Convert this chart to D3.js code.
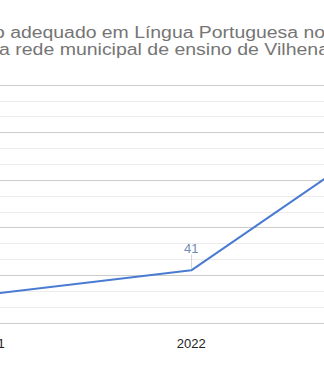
<!DOCTYPE html>
<html>
<head>
<meta charset="utf-8">
<script src="https://cdn.jsdelivr.net/npm/d3@7"></script>
<style>
  html, body { margin: 0; padding: 0; background: #fff; }
  svg { display: block; }
</style>
</head>
<body>
<svg id="chart" width="324" height="371"></svg>
<script>
// ---- data ----
const titleLines = ["o adequado em Língua Portuguesa no", "a rede municipal de ensino de Vilhena"];
const years = ["2021", "2022", "2023"];
const values = [36, 41, 70];
const majorTicks = [30, 40, 50, 60, 70, 80];
const minorSteps = [1 / 3, 2 / 3];

// ---- layout ----
const W = 324, H = 371;
const svg = d3.select("#chart");
svg.append("rect").attr("width", W).attr("height", H).attr("fill", "#fff");

const x = d3.scalePoint().domain(years).range([-9.7, 392.3]);
const y = d3.scaleLinear().domain([30, 80]).range([322.7, 84.7]);

// title
const titleCfg = [
  { x: -6, y: 37.5, len: 331 },
  { x: -1, y: 54.5, len: 330 }
];
svg.append("g").selectAll("text").data(titleLines).join("text")
  .attr("x", (d, i) => titleCfg[i].x)
  .attr("y", (d, i) => titleCfg[i].y)
  .attr("textLength", (d, i) => titleCfg[i].len)
  .attr("lengthAdjust", "spacingAndGlyphs")
  .attr("font-family", "'Liberation Sans', Arial, sans-serif")
  .attr("font-size", 16)
  .attr("fill", "#757575")
  .text(d => d);

// minor gridlines
const minorVals = [];
for (let i = 0; i < majorTicks.length - 1; i++) {
  const step = majorTicks[i + 1] - majorTicks[i];
  minorSteps.forEach(f => minorVals.push(majorTicks[i] + step * f));
}
const grid = svg.append("g").attr("shape-rendering", "crispEdges");
grid.selectAll("line.minor").data(minorVals).join("line")
  .attr("class", "minor")
  .attr("x1", 0).attr("x2", W)
  .attr("y1", d => Math.round(y(d)) + 0.5).attr("y2", d => Math.round(y(d)) + 0.5)
  .attr("stroke", "#ebebeb").attr("stroke-width", 1);
grid.selectAll("line.major").data(majorTicks).join("line")
  .attr("class", "major")
  .attr("x1", 0).attr("x2", W)
  .attr("y1", d => Math.round(y(d)) + 0.5).attr("y2", d => Math.round(y(d)) + 0.5)
  .attr("stroke", "#cccccc").attr("stroke-width", 1);

// x axis labels
svg.append("g").selectAll("text").data(years).join("text")
  .attr("x", d => x(d))
  .attr("y", 348)
  .attr("text-anchor", "middle")
  .attr("font-family", "'Liberation Sans', Arial, sans-serif")
  .attr("font-size", 13)
  .attr("fill", "#222")
  .text(d => d);

// line
const pts = years.map((yr, i) => ({ yr, v: values[i] }));
svg.append("path")
  .datum(pts)
  .attr("fill", "none")
  .attr("stroke", "#4a7bd3")
  .attr("stroke-width", 2)
  .attr("stroke-linejoin", "round")
  .attr("d", d3.line().x(d => x(d.yr)).y(d => y(d.v)));

// data labels with stems
const lab = svg.append("g").selectAll("g").data(pts).join("g");
lab.append("line")
  .attr("x1", d => Math.round(x(d.yr)) + 0.5).attr("x2", d => Math.round(x(d.yr)) + 0.5)
  .attr("y1", d => y(d.v) - 1.5).attr("y2", d => y(d.v) - 15.5)
  .attr("stroke", "#d6d6d6").attr("stroke-width", 1);
lab.append("text")
  .attr("x", d => x(d.yr))
  .attr("y", d => y(d.v) - 17.5)
  .attr("text-anchor", "middle")
  .attr("font-family", "'Liberation Sans', Arial, sans-serif")
  .attr("font-size", 13)
  .attr("fill", "#6f8cbb")
  .text(d => d.v);
</script>
</body>
</html>
